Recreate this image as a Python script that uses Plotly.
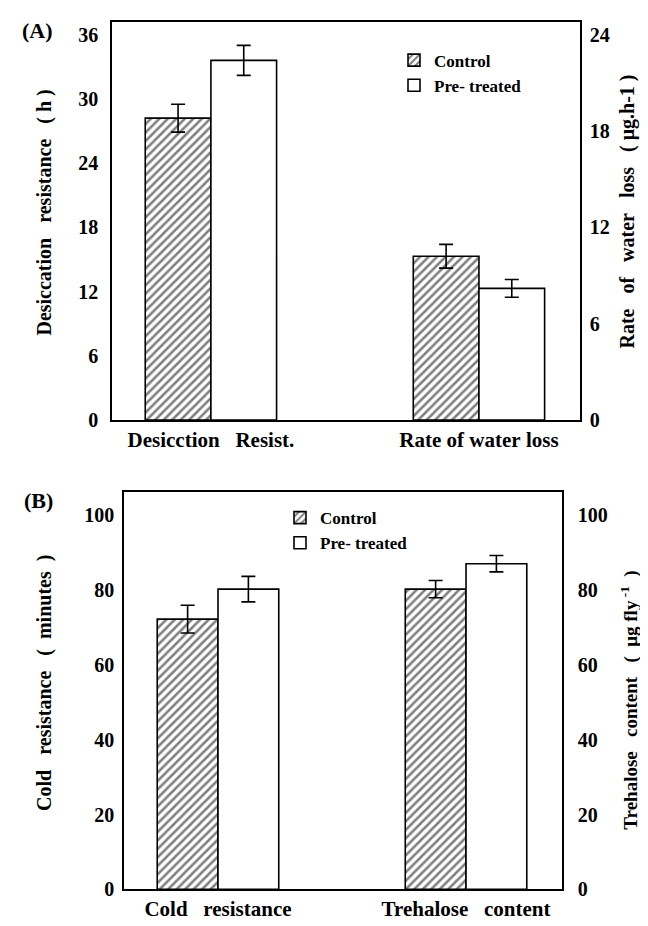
import plotly.graph_objects as go

# ---------------- data ----------------
cats_a = ["Desicction\u00a0\u00a0\u00a0Resist.", "Rate\u00a0of\u00a0water\u00a0loss"]
cats_b = ["Cold\u00a0\u00a0\u00a0resistance", "Trehalose\u00a0\u00a0\u00a0content"]
groups = ["Control", "Pre- treated"]

desic_mean = [28.2, 33.6]   # Control, Pre-treated (h)
desic_err = [1.3, 1.4]
water_mean = [10.2, 8.2]    # Control, Pre-treated (ug h-1)
water_err = [0.74, 0.55]
cold_mean = [72.2, 80.2]    # Control, Pre-treated (minutes)
cold_err = [3.7, 3.4]
treh_mean = [80.2, 87.0]    # Control, Pre-treated (ug fly-1)
treh_err = [2.3, 2.2]

ticks_a_left = [0, 6, 12, 18, 24, 30, 36]
ticks_a_right = [0, 6, 12, 18, 24]
ticks_b = [0, 20, 40, 60, 80, 100]

W, H = 648, 926
SERIF = "Liberation Serif"
NB = "\u00a0"

def px(x):
    return x / W

def py(y):
    return 1 - y / H

hatch = dict(shape="/", fgcolor="black", bgcolor="white", size=6, solidity=0.42)
plain = dict(shape="", bgcolor="white")

fig = go.Figure()

def add_pair(cats, means, errs, xaxis, yaxis, slot, legend, showlegend):
    for gi, name in enumerate(groups):
        yv = [None, None]
        ev = [0, 0]
        yv[slot] = means[gi]
        ev[slot] = errs[gi]
        fig.add_trace(go.Bar(
            x=cats, y=yv, name=name,
            xaxis=xaxis, yaxis=yaxis,
            marker=dict(color="white", line=dict(color="black", width=1.6),
                        pattern=hatch if gi == 0 else plain),
            error_y=dict(type="data", array=ev, visible=True, color="black",
                         thickness=1.6, width=7),
            legend=legend, showlegend=showlegend,
        ))

add_pair(cats_a, desic_mean, desic_err, "x", "y", 0, "legend", True)
add_pair(cats_a, water_mean, water_err, "x", "y2", 1, "legend", False)
add_pair(cats_b, cold_mean, cold_err, "x2", "y3", 0, "legend2", True)
add_pair(cats_b, treh_mean, treh_err, "x2", "y4", 1, "legend2", False)

tickfont = dict(family=SERIF, size=20, color="black", weight="bold")
xfont = dict(family=SERIF, size=21, color="black", weight="bold")
axline = dict(showline=True, linecolor="black", linewidth=1.6, showgrid=False,
              zeroline=False, ticks="")
legfont = dict(family=SERIF, size=17, color="black", weight="bold")

fig.update_layout(
    width=W, height=H,
    margin=dict(l=0, r=0, t=0, b=0),
    paper_bgcolor="white", plot_bgcolor="white",
    barmode="group", bargap=0.51, bargroupgap=0,
    xaxis=dict(domain=[px(104), px(572)], anchor="y", type="category",
               range=[-0.369, 1.377], mirror=True, tickfont=xfont, **axline),
    yaxis=dict(domain=[py(417), py(14)], anchor="x", range=[0, 37.2],
               tickvals=ticks_a_left, tickfont=tickfont, mirror=True,
               ticklabelstandoff=8, **axline),
    yaxis2=dict(overlaying="y", side="right", anchor="x", range=[0, 24.8],
                tickvals=ticks_a_right, tickfont=tickfont,
                ticklabelstandoff=4, **axline),
    xaxis2=dict(domain=[px(116), px(554)], anchor="y3", type="category",
                range=[-0.379, 1.387], mirror=True, tickfont=xfont, **axline),
    yaxis3=dict(domain=[py(892), py(490)], anchor="x2", range=[0, 106.1],
                tickvals=ticks_b, tickfont=tickfont, mirror=True,
                ticklabelstandoff=4, **axline),
    yaxis4=dict(overlaying="y3", side="right", anchor="x2", range=[0, 106.1],
                tickvals=ticks_b, tickfont=tickfont,
                ticklabelstandoff=10, **axline),
    legend=dict(x=px(386), y=py(35), xanchor="left", yanchor="top",
                bgcolor="rgba(0,0,0,0)", font=legfont,
                tracegroupgap=0, itemwidth=30),
    legend2=dict(x=px(272), y=py(498), xanchor="left", yanchor="top",
                 bgcolor="rgba(0,0,0,0)", font=legfont,
                 tracegroupgap=0, itemwidth=30),
)

titlefont = dict(family=SERIF, size=20, color="black", weight="bold")
S3 = NB * 3
ann = [
    dict(text="(A)", x=px(29), y=py(23), font=dict(family=SERIF, size=22, color="black", weight="bold")),
    dict(text="(B)", x=px(30), y=py(498), font=dict(family=SERIF, size=22, color="black", weight="bold")),
    dict(text="Desiccation" + S3 + "resistance" + S3 + "(" + NB + "h" + NB + ")", x=px(37), y=py(207),
         textangle=-90, font=titlefont),
    dict(text="Rate" + S3 + "of" + S3 + "water" + S3 + "loss" + S3 + "(" + NB + "\u03bcg.h-1" + NB + ")",
         x=px(620), y=py(206), textangle=-90, font=titlefont),
    dict(text="Cold" + S3 + "resistance" + S3 + "(" + NB * 2 + "minutes" + NB * 2 + ")", x=px(37), y=py(683),
         textangle=-90, font=titlefont),
    dict(text="Trehalose" + S3 + "content" + S3 + "(" + NB * 2 + "\u03bcg" + NB + "fly<sup>" + NB + "-1</sup>" + NB * 2 + ")",
         x=px(622), y=py(701), textangle=-90, font=dict(family=SERIF, size=19, color="black", weight="bold")),
]
for a in ann:
    a.update(xref="paper", yref="paper", showarrow=False, xanchor="center", yanchor="middle")
fig.update_layout(annotations=ann)

fig.write_html("out.html")
